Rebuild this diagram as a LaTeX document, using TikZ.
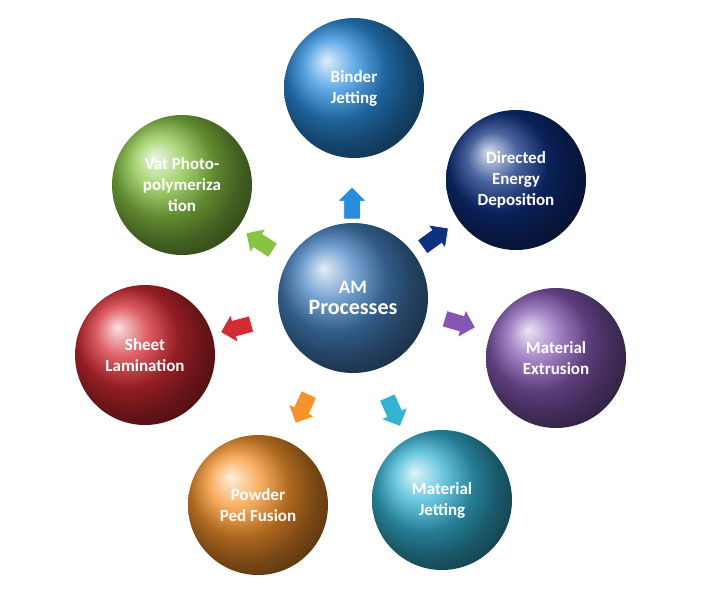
\documentclass[tikz,border=0pt]{standalone}
\usepackage{fontspec}
\setmainfont{Carlito}
\usetikzlibrary{shapes.arrows,shadows}
\definecolor{cbind}{HTML}{2A8CDC}
\definecolor{cded}{HTML}{0E3080}
\definecolor{cext}{HTML}{8458B2}
\definecolor{cjet}{HTML}{34B2D2}
\definecolor{cpow}{HTML}{F5922A}
\definecolor{csheet}{HTML}{D42A32}
\definecolor{cvat}{HTML}{88C444}
\definecolor{ccen}{HTML}{4682C0}
\tikzset{
 ballnode/.style={circle,minimum size=140pt,inner sep=0pt,ball color=#1,text=white,font=\bfseries\fontsize{17}{21}\selectfont,align=center,draw=none},
 blockarrow/.style={single arrow,minimum height=32pt,inner xsep=0pt,inner ysep=8pt,single arrow head extend=6pt,fill=#1,draw=white,line width=0.6pt}
}
\begin{document}
\begin{tikzpicture}[x=1pt,y=-1pt]
\useasboundingbox[fill=white] (0,0) rectangle (702,603);
\node[ballnode=ccen,minimum size=150pt,font=\bfseries\fontsize{19}{22}\selectfont] (c) at (353,298) {AM\\[-1pt]{\fontsize{22}{25}\selectfont Processes}};
\node[ballnode=cbind] (bj) at (354,88) {Binder\\Jetting};
\node[ballnode=cded] (ded) at (516,180) {Directed\\Energy\\Deposition};
\node[ballnode=cext] (me) at (556,358) {Material\\Extrusion};
\node[ballnode=cjet] (mj) at (442,500) {Material\\Jetting};
\node[ballnode=cpow] (pf) at (258,505) {Powder\\Ped Fusion};
\node[ballnode=csheet] (sl) at (145,355) {Sheet\\Lamination};
\node[ballnode=cvat] (vp) at (182,185) {Vat Photo-\\polymeriza\\tion};
\node[blockarrow=cbind,rotate=90] (a1) at (352,207) {};
\node[blockarrow=cded,rotate=36] (a2) at (432,240) {};
\node[blockarrow=cext,rotate=-16] (a3) at (456,322) {};
\node[blockarrow=cjet,rotate=-66] (a4) at (392,408) {};
\node[blockarrow=cpow,rotate=-115] (a5) at (304,405) {};
\node[blockarrow=csheet,rotate=195] (a6) at (240,327) {};
\node[blockarrow=cvat,rotate=147] (a7) at (263,244) {};
\end{tikzpicture}
\end{document}
